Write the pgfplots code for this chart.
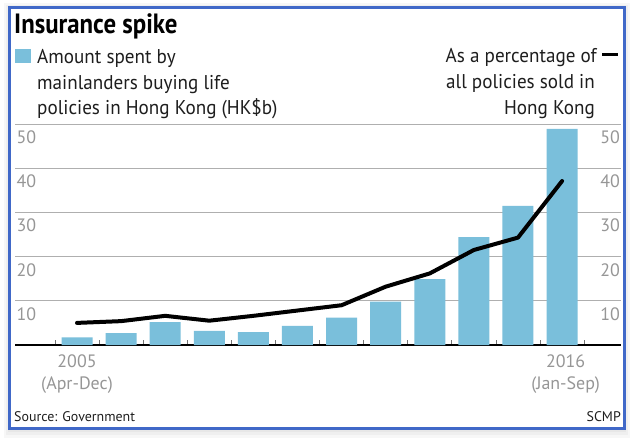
\documentclass[border=0pt]{standalone}
\usepackage{pgfplots}
\pgfplotsset{compat=1.18}
\usepackage{fontspec}
\setmainfont{PT Sans}
\newfontfamily\titlefont[FakeStretch=0.89]{PT Sans}
\newfontfamily\keyfont[FakeStretch=0.96]{PT Sans}
\definecolor{barblue}{RGB}{122,191,219}
\definecolor{frameblue}{RGB}{64,104,200}
\definecolor{ticktext}{RGB}{150,150,150}
\definecolor{gridgray}{RGB}{175,175,175}
\definecolor{ink}{RGB}{30,30,30}

\begin{document}
\begin{tikzpicture}
\path[use as bounding box, fill=white] (0,0) rectangle (636bp,-441bp);
% soft shadow round the frame
\fill[black, opacity=0.03] (4bp,-3bp) rectangle (630bp,-438bp);
\fill[black, opacity=0.03] (6bp,-5bp) rectangle (628bp,-435bp);
\fill[black, opacity=0.03] (8bp,-6bp) rectangle (626bp,-432bp);
\fill[white] (9.5bp,-7.5bp) rectangle (624bp,-428bp);
\draw[frameblue, line width=3bp] (9.5bp,-7.5bp) rectangle (624bp,-428bp);

% title and keys
\node[anchor=base west, inner sep=0pt, text=black,
      font=\titlefont\bfseries\fontsize{28}{30}\selectfont] at (14bp,-33bp) {Insurance spike};
\fill[barblue] (15bp,-49bp) rectangle (31bp,-63bp);
\begin{scope}[every node/.style={inner sep=0pt, text=ink, font=\keyfont\fontsize{20}{24}\selectfont}]
  \node[anchor=base west] at (37bp,-63bp) {Amount spent by};
  \node[anchor=base west] at (37bp,-89bp) {mainlanders buying life};
  \node[anchor=base west] at (37bp,-114bp) {policies in Hong Kong (HK\$b)};
  \node[anchor=base east] at (597bp,-62bp) {As a percentage of};
  \node[anchor=base east] at (595bp,-88bp) {all policies sold in};
  \node[anchor=base east] at (595bp,-114bp) {Hong Kong};
\end{scope}
\draw[black, line width=3bp] (602bp,-54bp) -- (618bp,-54bp);

\begin{axis}[
  at={(15bp,-345bp)}, anchor=south west,
  scale only axis, width=606bp, height=221bp,
  xmin=-1.406, xmax=12.336, ymin=0, ymax=50,
  clip=false,
  axis x line*=bottom, axis y line*=left,
  x axis line style={black, line width=1.6bp},
  y axis line style={draw=none},
  ytick={10,20,30,40,50},
  ymajorgrids, grid style={gridgray, line width=1bp},
  ytick style={draw=none},
  yticklabel style={anchor=north west, inner sep=0pt, xshift=1.5bp, yshift=-6.5bp,
                    text=ticktext, font=\fontsize{18}{20}\selectfont},
  /pgf/number format/assume math mode=true,
  xtick={-0.5,0.5,...,11.5},
  xticklabels={},
  xtick style={black!55, line width=0.8bp},
  tick align=inside, major tick length=5bp,
  extra x ticks={0,11.08},
  extra x tick labels={{2005\\(Apr-Dec)},{2016\\(Jan-Sep)}},
  extra x tick style={major tick length=0pt},
  xticklabel style={align=center, anchor=north, inner sep=0pt, yshift=-10bp,
                    text=ticktext, font=\fontsize{18}{22}\selectfont},
]
\addplot[ybar, bar width=31bp, fill=barblue, draw=none] coordinates {
  (0,1.7) (1,2.7) (2,5.2) (3,3.2) (4,2.9) (5,4.3)
  (6,6.2) (7,9.8) (8,14.9) (9,24.4) (10,31.5) (11,48.9)
};
\addplot[black, line width=4bp, line join=round, line cap=round, mark=none] coordinates {
  (0,5.0) (1,5.4) (2,6.6) (3,5.5) (4,6.6) (5,7.8)
  (6,9.0) (7,13.2) (8,16.2) (9,21.5) (10,24.3) (11,37.1)
};
\end{axis}

\begin{axis}[
  at={(15bp,-345bp)}, anchor=south west,
  scale only axis, width=606bp, height=221bp,
  xmin=-1.406, xmax=12.336, ymin=0, ymax=50,
  hide x axis,
  axis y line*=right,
  y axis line style={draw=none},
  ytick={10,20,30,40,50},
  ytick style={draw=none},
  yticklabel style={anchor=north east, inner sep=0pt, xshift=-1bp, yshift=-6.5bp,
                    text=ticktext, font=\fontsize{18}{20}\selectfont},
  /pgf/number format/assume math mode=true,
]
\addplot[draw=none] coordinates {(0,0)};
\end{axis}

\node[anchor=base west, inner sep=0pt, text=ink, font=\fontsize{14}{16}\selectfont]
  at (14bp,-421bp) {Source: Government};
\node[anchor=base east, inner sep=0pt, text=ink, font=\fontsize{14}{16}\selectfont]
  at (621bp,-421bp) {SCMP};
\end{tikzpicture}
\end{document}
